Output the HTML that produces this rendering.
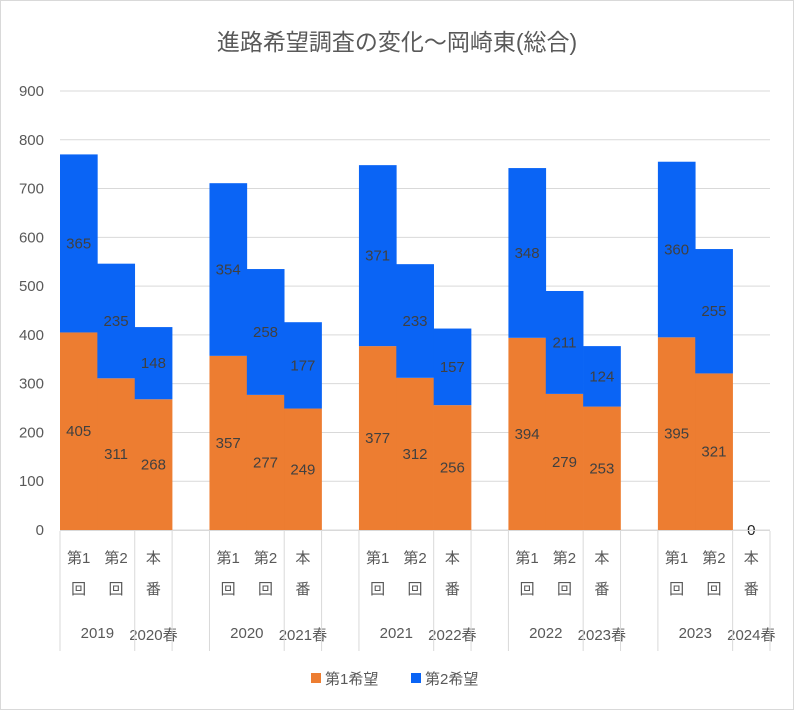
<!DOCTYPE html>
<html><head><meta charset="utf-8">
<style>
body{margin:0;background:#fff;}
svg text{font-family:"Liberation Sans","Noto Sans CJK JP",sans-serif;}
</style></head>
<body>
<svg id="chart" width="794" height="711" xmlns="http://www.w3.org/2000/svg">
<rect x="0.5" y="0.5" width="793" height="709" fill="#fff" stroke="#d9d9d9"/>
<text x="397" y="50" text-anchor="middle" font-size="23" fill="#595959">進路希望調査の変化～岡崎東(総合)</text>
<g id="grid"></g><g id="bars"></g><g id="labels"></g><g id="axis"></g>
<g>
<rect x="311" y="673" width="10" height="10" fill="#ED7D31"/>
<text x="325" y="684" font-size="15" fill="#595959">第1希望</text>
<rect x="411" y="673" width="10" height="10" fill="#0A64F5"/>
<text x="425" y="684" font-size="15" fill="#595959">第2希望</text>
</g>
</svg>
<script>
const years=["2019","2020","2021","2022","2023"];
const springs=["2020春","2021春","2022春","2023春","2024春"];
const subCats=[["第1","回"],["第2","回"],["本","番"]];
const first=[[405,311,268],[357,277,249],[377,312,256],[394,279,253],[395,321,0]];
const second=[[365,235,148],[354,258,177],[371,233,157],[348,211,124],[360,255,0]];
const yTicks=[0,100,200,300,400,500,600,700,800,900];

const NS="http://www.w3.org/2000/svg";
const X0=60,X1=770,Y0=530,Y900=91;
const w=(X1-X0)/19;
function y(v){return Y0-(Y0-Y900)*v/900;}
function slotX(g,i){return X0+(g*4+i)*w;}
function mk(tag,attrs,parent,txt){const e=document.createElementNS(NS,tag);for(const k in attrs)e.setAttribute(k,attrs[k]);if(txt!==undefined)e.textContent=txt;parent.appendChild(e);return e;}
const grid=document.getElementById('grid'),bars=document.getElementById('bars'),labels=document.getElementById('labels'),axis=document.getElementById('axis');
yTicks.forEach(t=>{
  const l=mk('line',{x1:X0,x2:X1,y1:y(t),y2:y(t),stroke:'#d9d9d9','stroke-width':1},grid);
  
  
  const tx=mk('text',{x:44,y:y(t)+5,'text-anchor':'end','font-size':15,fill:'#595959'},axis,String(t));
  
  
});
first.forEach((grp,g)=>{
  grp.forEach((v1,i)=>{
    const v2=second[g][i];
    const x=slotX(g,i);
    const r1=mk('rect',{x:x,y:y(v1),width:w+0.3,height:Y0-y(v1),fill:'#ED7D31'},bars);
    
    
    const r2=mk('rect',{x:x,y:y(v1+v2),width:w+0.3,height:y(v1)-y(v1+v2),fill:'#0A64F5'},bars);
    
    
    const cx=x+w/2;
    if(v1+v2===0){
      const z=mk('text',{x:cx,y:y(0)+5,'text-anchor':'middle','font-size':15,fill:'#222'},labels,'0');
      
      
    }else{
      const a=mk('text',{x:cx,y:(y(0)+y(v1))/2+5,'text-anchor':'middle','font-size':15,fill:'#404040'},labels,String(v1));
      
      
      const b=mk('text',{x:cx,y:(y(v1)+y(v1+v2))/2+5,'text-anchor':'middle','font-size':15,fill:'#404040'},labels,String(v2));
      
      
    }
    const c1=mk('text',{x:cx,y:563,'text-anchor':'middle','font-size':15,fill:'#595959'},axis,subCats[i][0]);
    
    
    const c2=mk('text',{x:cx,y:594,'text-anchor':'middle','font-size':15,fill:'#595959'},axis,subCats[i][1]);
    
    
  });
  const ya=mk('text',{x:slotX(g,1),y:638,'text-anchor':'middle','font-size':15,fill:'#595959'},axis,years[g]);
  
  
  const sp=mk('text',{x:slotX(g,2)+w/2,y:640,'text-anchor':'middle','font-size':15,fill:'#595959'},axis,springs[g]);
  
  
  [0,2,3].forEach(k=>{
    const xx=slotX(g,k);
    const ln=mk('line',{x1:xx,x2:xx,y1:531,y2:651,stroke:'#d9d9d9','stroke-width':1},axis);
    
    
  });
});
const base=mk('line',{x1:X0,x2:X1,y1:Y0+0.5,y2:Y0+0.5,stroke:'#d9d9d9','stroke-width':1},axis);


</script>
</body></html>
